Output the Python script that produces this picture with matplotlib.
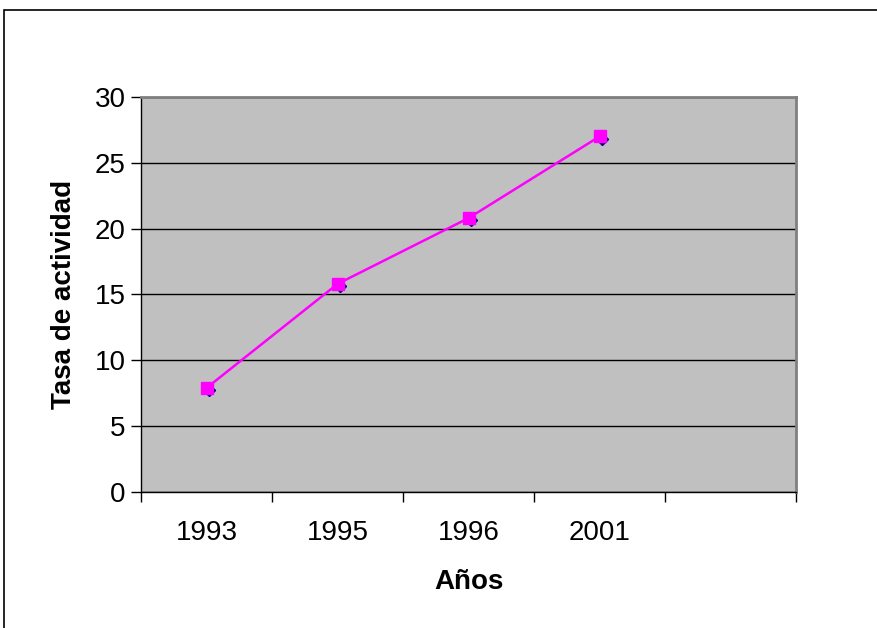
import matplotlib.pyplot as plt
from matplotlib.patches import Rectangle
import matplotlib.transforms as mtransforms
import numpy as np

plt.rcParams['font.family'] = ['Liberation Sans', 'DejaVu Sans']

years = ['1993', '1995', '1996', '2001']
tasa = [7.9, 15.8, 20.8, 27.0]
n_slots = 5

fig = plt.figure(figsize=(8.77, 6.28), dpi=100)
ax = fig.add_axes([0.1608, 0.2166, 0.7469, 0.6290])
ax.set_facecolor('#c0c0c0')

# outer chart border
fig.patches.append(Rectangle((4 / 877, -0.05), 1.0, 1 - 10 / 628 + 0.05,
                             transform=fig.transFigure, fill=False,
                             edgecolor='black', linewidth=1.2))

x = np.arange(len(years))
ax.set_xlim(-0.5, n_slots - 0.5)
ax.set_ylim(0, 30)
ax.set_yticks(range(0, 31, 5))
ax.yaxis.grid(True, color='black', linewidth=1.0)
ax.set_axisbelow(True)

ax.set_xticks(np.arange(-0.5, n_slots, 1.0))
ax.set_xticklabels([])
ax.set_xticks(x, minor=True)
ax.set_xticklabels(years, minor=True)
ax.tick_params(axis='x', which='minor', length=0, pad=20, labelsize=20)
ax.tick_params(axis='x', which='major', length=7, direction='out', width=1)
ax.tick_params(axis='y', length=7, direction='out', width=1, labelsize=20, pad=4)

# dark diamond behind, slightly offset
shift = mtransforms.offset_copy(ax.transData, fig=fig, x=1.5, y=-1.5, units='points')
ax.plot(x, tasa, linestyle='none', marker='D', markersize=6, color='#000080',
        transform=shift, zorder=3)
ax.plot(x, tasa, color='#ff00ff', linewidth=1.8, marker='s', markersize=8.5,
        markerfacecolor='#ff00ff', markeredgecolor='#ff00ff', zorder=4)

for side in ['top', 'right']:
    ax.spines[side].set_color('#808080')
    ax.spines[side].set_linewidth(2)
for side in ['left', 'bottom']:
    ax.spines[side].set_color('black')
    ax.spines[side].set_linewidth(1)

ax.set_xlabel('Años', fontsize=20, fontweight='bold', labelpad=17)
ax.set_ylabel('Tasa de actividad', fontsize=20, fontweight='bold', labelpad=13)

fig.savefig('out.png', dpi=100)
